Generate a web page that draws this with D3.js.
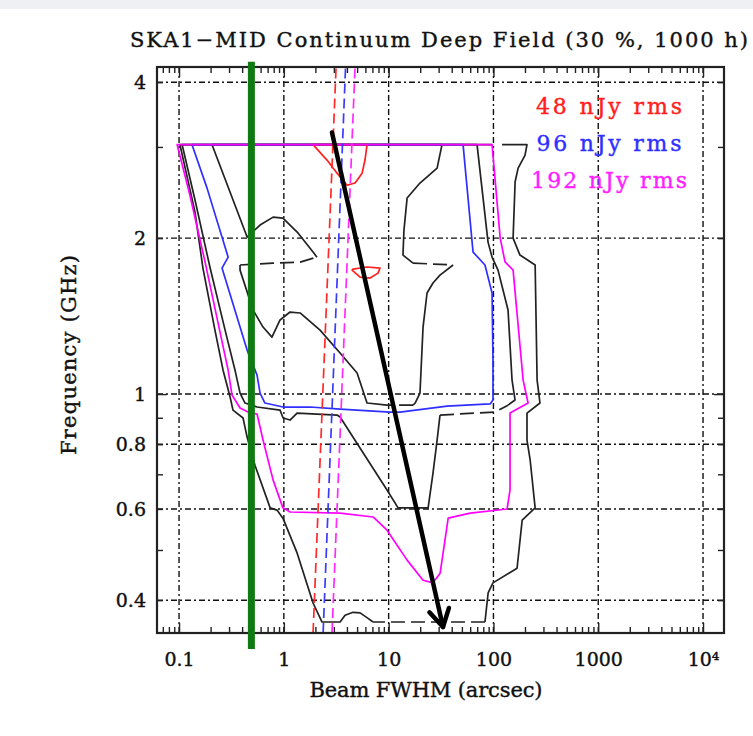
<!DOCTYPE html>
<html>
<head>
<meta charset="utf-8">
<script src="https://cdn.jsdelivr.net/npm/d3@7"></script>
<style>
body { margin: 0; background: #fff; }
text { font-family: 'DejaVu Serif', serif; fill: #111; }
</style>
</head>
<body>
<div id="chart"></div>
<script>
// axis ticks and labels
var xTickValues = [0.1, 1, 10, 100, 1000, 10000];
var xTickLabels = ['0.1', '1', '10', '100', '1000', '10\u2074'];
var yTickValues = [0.4, 0.6, 0.8, 1, 2, 4];
var yTickLabels = ['0.4', '0.6', '0.8', '1', '2', '4'];
var legendLabels = ['48 nJy rms', '96 nJy rms', '192 nJy rms'];

// contours: [beam FWHM arcsec, frequency GHz]
var red48Top = [[1.90, 3.03], [2.58, 2.83], [3.22, 2.67], [4.01, 2.53], [4.78, 2.555], [5.58, 2.67], [5.95, 2.83], [6.22, 3.03]];
var red48Mid = [[4.48, 1.735], [5.34, 1.682], [6.65, 1.675], [7.92, 1.712], [8.28, 1.751], [6.22, 1.759], [4.57, 1.743]];

var blue96 = [[0.133, 3.03], [51.3, 3.03], [63.9, 1.88], [83, 1.775], [97, 1.567], [99, 1.163], [99, 0.974], [93, 0.957],
	[36, 0.948], [12.85, 0.923], [10.3, 0.923], [3.44, 0.935], [1.78, 0.944], [0.98, 0.944], [0.66, 0.961], [0.593, 1.004],
	[0.555, 1.088], [0.446, 1.216], [0.257, 1.751], [0.294, 1.838], [0.185, 2.498]];

var magenta192 = [[0.096, 3.03], [97, 3.03], [116, 2.00], [129, 1.80], [154, 1.735], [192, 1.064], [214, 0.961], [144, 0.919],
	[144, 0.815], [144, 0.653], [135, 0.600], [60, 0.589], [37, 0.576], [31, 0.451], [26.5, 0.432], [21.3, 0.437], [15, 0.478],
	[9.65, 0.546], [7.1, 0.579], [3.44, 0.589], [1.15, 0.592], [0.98, 0.603], [0.79, 0.682], [0.633, 0.815], [0.555, 0.915],
	[0.455, 0.923], [0.382, 0.940], [0.320, 0.996], [0.294, 1.112], [0.177, 1.80], [0.127, 2.42]];

var blackOuterA = [[120.8, 3.03], [209, 3.03], [200, 2.89], [172, 2.73], [161, 2.57], [154, 2.00], [179, 1.855], [250, 1.775],
	[261, 1.064], [278, 0.961], [209, 0.919], [209, 0.815], [224, 0.746], [250, 0.603], [188, 0.571], [168, 0.461], [99, 0.432],
	[89, 0.413], [83, 0.363]];
var blackOuterDash = [[83, 0.363], [7.1, 0.363]];
var blackOuterB = [[7.1, 0.363], [6.36, 0.369], [5.34, 0.378], [4.57, 0.379], [3.84, 0.374], [3.44, 0.363], [2.315, 0.363],
	[1.90, 0.395], [1.34, 0.493], [0.98, 0.576], [0.86, 0.597], [0.74, 0.603], [0.53, 0.729], [0.446, 0.826], [0.408, 0.899],
	[0.327, 0.931], [0.307, 0.987], [0.263, 1.112], [0.22, 1.329], [0.169, 1.751], [0.142, 2.245], [0.102, 3.03], [97, 3.03]];

var blackMidA = [[2.07, 1.838], [1.90, 1.88], [1.34, 2.055], [0.98, 2.187], [0.79, 2.196], [0.593, 2.12], [0.446, 2.01],
	[0.2065, 3.03], [32.3, 3.03], [29, 2.73], [19.9, 2.555], [15, 2.39], [14, 2.073], [13.7, 1.855], [17.1, 1.79]];
var blackMidDashA = [[17.1, 1.79], [41.2, 1.775]];
var blackMidB = [[41.2, 1.775], [30.9, 1.697], [26.5, 1.638], [23.25, 1.567], [21.3, 1.347], [19.9, 1.004], [17.9, 0.961], [17.1, 0.952]];
var blackMidDashB = [[17.1, 0.952], [9.65, 0.952]];
var blackMidC = [[9.65, 0.952], [6.22, 0.961], [5.0, 1.098], [3.44, 1.20], [2.215, 1.329], [1.43, 1.434], [1.146, 1.44],
	[0.92, 1.39], [0.77, 1.288], [0.633, 1.347], [0.508, 1.453], [0.382, 1.735], [0.382, 1.775]];
var blackMidDashC = [[0.382, 1.775], [0.789, 1.79], [1.43, 1.798], [2.07, 1.838]];

var blackInnerA = [[69.75, 3.03], [0.107, 3.03], [0.142, 2.369], [0.198, 1.751], [0.275, 1.329], [0.342, 1.112], [0.382, 1.004],
	[0.426, 0.961], [0.555, 0.944], [0.92, 0.931], [0.983, 0.899], [1.146, 0.891], [1.337, 0.919], [3.22, 0.911], [3.44, 0.903],
	[9.65, 0.653], [12.3, 0.603], [23.8, 0.603], [26.5, 0.704], [29, 0.815], [30.9, 0.911]];
var blackInnerDash = [[30.9, 0.911], [103.6, 0.923], [137.8, 0.952]];
var blackInnerB = [[137.8, 0.952], [160.7, 0.974], [150.5, 1.064], [137.8, 1.453], [110.6, 1.735], [97, 1.838], [88.8, 1.965], [69.75, 3.03]];

// dashed beam lines: beam at bottom / top of the frequency range
var beamFreqs = [0.3457, 4.28];
var beamRed = [1.90, 3.15];
var beamBlue = [2.37, 3.88];
var beamMagenta = [2.88, 4.78];

// annotations
var greenBeam = 0.49;
var greenFreqs = [4.38, 0.322];
var arrowFrom = [2.88, 3.20];
var arrowTo = [33.0, 0.355];

var width = 753;
var height = 736;
var plotLeft = 157, plotRight = 724, plotTop = 67, plotBottom = 633;

var svg = d3.select('#chart')
	.append('svg')
	.attr('width', width)
	.attr('height', height);

svg.append('rect')
	.attr('x', 0).attr('y', 0)
	.attr('width', width).attr('height', 9)
	.attr('fill', '#eef0f3');

var xScale = d3.scaleLog().domain([0.0616, 15850]).range([plotLeft, plotRight]);
var yScale = d3.scaleLog().domain([0.3457, 4.28]).range([plotBottom, plotTop]);

svg.append('clipPath').attr('id', 'plotClip')
	.append('rect')
	.attr('x', plotLeft).attr('y', plotTop)
	.attr('width', plotRight - plotLeft).attr('height', plotBottom - plotTop);

// grid
var grid = svg.append('g').classed('grid', true);
grid.selectAll('line.vgrid')
	.data(xTickValues)
	.enter().append('line')
	.attr('x1', function(d) { return xScale(d); })
	.attr('x2', function(d) { return xScale(d); })
	.attr('y1', plotTop).attr('y2', plotBottom);
grid.selectAll('line.hgrid')
	.data(yTickValues)
	.enter().append('line')
	.attr('y1', function(d) { return yScale(d); })
	.attr('y2', function(d) { return yScale(d); })
	.attr('x1', plotLeft).attr('x2', plotRight);
grid.selectAll('line')
	.attr('stroke', '#111')
	.attr('stroke-width', 1.4)
	.attr('stroke-dasharray', '6,3,2,3');

// ticks
var xMinor = [];
for (var e = -2; e <= 4; e += 1) {
	for (var k = 2; k <= 9; k += 1) {
		var v = k * Math.pow(10, e);
		if (v > 0.0616 && v < 15850) xMinor.push(v);
	}
}
var yMinor = [0.4, 0.5, 0.6, 0.7, 0.8, 0.9, 2, 3, 4];

function styleAxis(g) {
	g.select('.domain').remove();
	g.selectAll('line').attr('stroke', '#222').attr('stroke-width', 1.4);
	g.selectAll('text')
		.attr('font-size', '19px')
		.attr('font-family', 'DejaVu Serif, serif')
		.attr('fill', '#111')
		.attr('stroke', '#111')
		.attr('stroke-width', 0.4);
}

svg.append('g').attr('transform', 'translate(0,' + plotBottom + ')')
	.call(d3.axisBottom(xScale).tickValues(xTickValues).tickFormat(function(d, i) { return xTickLabels[i]; }).tickSize(-10).tickPadding(20))
	.call(styleAxis);
svg.append('g').attr('transform', 'translate(0,' + plotBottom + ')')
	.call(d3.axisBottom(xScale).tickValues(xMinor).tickFormat('').tickSize(-6))
	.call(styleAxis);
svg.append('g').attr('transform', 'translate(0,' + plotTop + ')')
	.call(d3.axisTop(xScale).tickValues(xTickValues).tickFormat('').tickSize(-10))
	.call(styleAxis);
svg.append('g').attr('transform', 'translate(0,' + plotTop + ')')
	.call(d3.axisTop(xScale).tickValues(xMinor).tickFormat('').tickSize(-6))
	.call(styleAxis);

svg.append('g').attr('transform', 'translate(' + plotLeft + ',0)')
	.call(d3.axisLeft(yScale).tickValues(yTickValues).tickFormat(function(d, i) { return yTickLabels[i]; }).tickSize(0).tickPadding(11))
	.call(styleAxis);
svg.append('g').attr('transform', 'translate(' + plotLeft + ',0)')
	.call(d3.axisLeft(yScale).tickValues(yMinor).tickFormat('').tickSize(-6))
	.call(styleAxis);
svg.append('g').attr('transform', 'translate(' + plotLeft + ',0)')
	.call(d3.axisLeft(yScale).tickValues([1]).tickFormat('').tickSize(-10))
	.call(styleAxis);
svg.append('g').attr('transform', 'translate(' + plotRight + ',0)')
	.call(d3.axisRight(yScale).tickValues(yMinor).tickFormat('').tickSize(-6))
	.call(styleAxis);
svg.append('g').attr('transform', 'translate(' + plotRight + ',0)')
	.call(d3.axisRight(yScale).tickValues([1]).tickFormat('').tickSize(-10))
	.call(styleAxis);

// contours
var line = d3.line()
	.x(function(d) { return xScale(d[0]); })
	.y(function(d) { return yScale(d[1]); });
var closedLine = d3.line()
	.curve(d3.curveLinearClosed)
	.x(function(d) { return xScale(d[0]); })
	.y(function(d) { return yScale(d[1]); });

var contours = svg.append('g').attr('clip-path', 'url(#plotClip)');

var drawPath = function(data, color, dash, closed) {
	contours.append('path')
		.datum(data)
		.attr('d', closed ? closedLine : line)
		.attr('fill', 'none')
		.attr('stroke', color)
		.attr('stroke-width', 1.7)
		.attr('stroke-linejoin', 'round')
		.attr('stroke-dasharray', dash);
};

var black = '#222';
[blackOuterA, blackOuterB, blackMidA, blackMidB, blackMidC, blackInnerA, blackInnerB].forEach(function(d) {
	drawPath(d, black, null, false);
});
[blackOuterDash, blackMidDashA, blackMidDashB, blackMidDashC, blackInnerDash].forEach(function(d) {
	drawPath(d, black, '14,6', false);
});
drawPath(blue96, '#2f2fff', null, true);
drawPath(red48Top, '#ff2020', null, true);
drawPath(red48Mid, '#ff2020', null, true);
drawPath(magenta192, '#ff00ff', null, true);

var beamLines = [[beamRed, '#ff2a2a'], [beamBlue, '#3b3bff'], [beamMagenta, '#ff2aff']];
beamLines.forEach(function(b) {
	drawPath([[b[0][0], beamFreqs[0]], [b[0][1], beamFreqs[1]]], b[1], '10,5', false);
});

// frame
svg.append('rect')
	.attr('x', plotLeft).attr('y', plotTop)
	.attr('width', plotRight - plotLeft).attr('height', plotBottom - plotTop)
	.attr('fill', 'none')
	.attr('stroke', '#222')
	.attr('stroke-width', 2.2);

// legend
var legendColors = ['#ff2020', '#2f2fff', '#ff20ff'];
var legendLengths = [146, 145, 156];
svg.selectAll('text.legend')
	.data(legendLabels)
	.enter().append('text')
	.classed('legend', true)
	.attr('x', 609)
	.attr('y', function(d, i) { return 114 + i * 37; })
	.attr('text-anchor', 'middle')
	.attr('font-size', '22px')
	.attr('textLength', function(d, i) { return legendLengths[i]; })
	.attr('lengthAdjust', 'spacing')
	.attr('stroke-width', 0.4)
	.style('fill', function(d, i) { return legendColors[i]; })
	.style('stroke', function(d, i) { return legendColors[i]; })
	.text(function(d) { return d; });

// titles
var titles = svg.append('g')
	.attr('font-size', '21px')
	.attr('stroke', '#111')
	.attr('stroke-width', 0.4)
	.attr('text-anchor', 'middle');

titles.append('text')
	.attr('x', 439).attr('y', 47)
	.attr('textLength', 618)
	.attr('lengthAdjust', 'spacing')
	.text('SKA1\u2212MID Continuum Deep Field (30 %, 1000 h)');

titles.append('text')
	.attr('x', 426).attr('y', 697)
	.attr('textLength', 233)
	.attr('lengthAdjust', 'spacing')
	.text('Beam FWHM (arcsec)');

titles.append('text')
	.attr('transform', 'translate(76,355) rotate(-90)')
	.attr('textLength', 200)
	.attr('lengthAdjust', 'spacing')
	.text('Frequency (GHz)');

// annotations
svg.append('line')
	.attr('x1', xScale(greenBeam)).attr('x2', xScale(greenBeam))
	.attr('y1', yScale(greenFreqs[0])).attr('y2', yScale(greenFreqs[1]))
	.attr('stroke', '#0f7a12')
	.attr('stroke-width', 7);

var ax1 = xScale(arrowFrom[0]), ay1 = yScale(arrowFrom[1]);
var ax2 = xScale(arrowTo[0]), ay2 = yScale(arrowTo[1]);
var ang = Math.atan2(ay1 - ay2, ax1 - ax2);
var headLen = 20, headAng = Math.PI / 6;
var arrow = svg.append('g')
	.attr('stroke', '#000')
	.attr('stroke-width', 4.5)
	.attr('stroke-linecap', 'round')
	.attr('fill', 'none');
arrow.append('line').attr('x1', ax1).attr('y1', ay1).attr('x2', ax2).attr('y2', ay2);
arrow.append('polyline')
	.attr('stroke-linejoin', 'round')
	.attr('points', [
		[ax2 + headLen * Math.cos(ang + headAng), ay2 + headLen * Math.sin(ang + headAng)],
		[ax2, ay2],
		[ax2 + headLen * Math.cos(ang - headAng), ay2 + headLen * Math.sin(ang - headAng)]
	].join(' '));
</script>
</body>
</html>
